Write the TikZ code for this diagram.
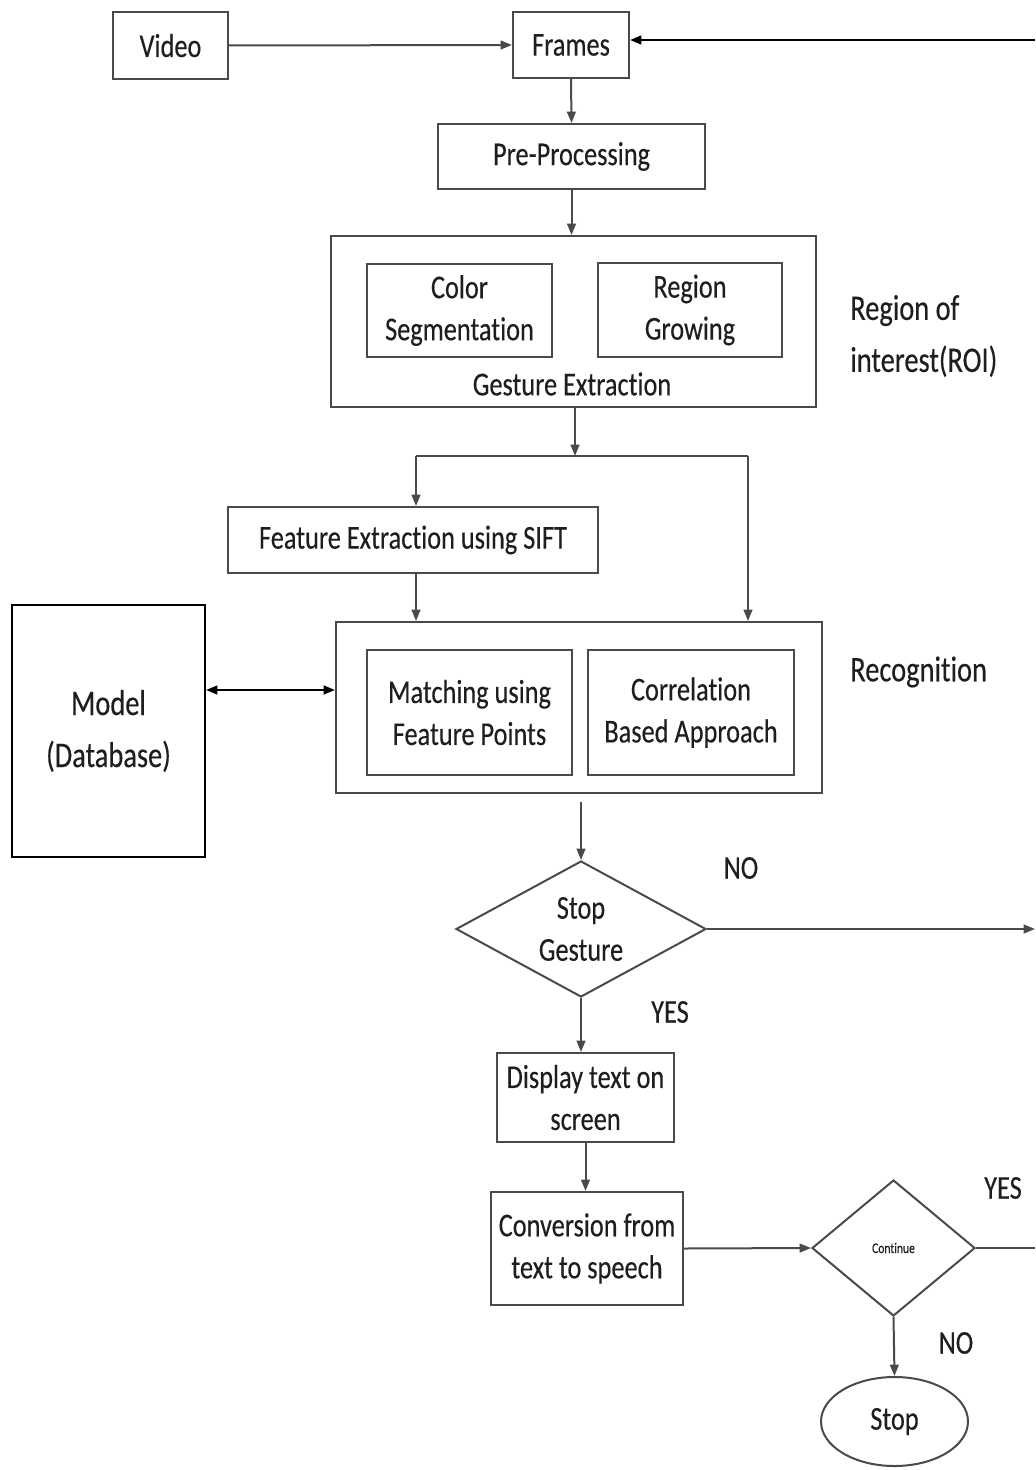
\documentclass[tikz,border=0pt]{standalone}
\usepackage{fontspec}
\setmainfont{Carlito}[FakeStretch=0.79, FakeBold=0.3, Ligatures=CommonOff]
\usetikzlibrary{arrows.meta,shapes.geometric}
\definecolor{ln}{HTML}{4A4A4A}
\definecolor{tx}{HTML}{1E1E1E}
\begin{document}
\begin{tikzpicture}[x=0.75pt,y=-0.75pt,
  every node/.style={font=\fontsize{25}{31.5}\selectfont, text=tx},
  rbox/.style={draw=ln, line width=1.5pt, rectangle, inner sep=0pt, align=center},
  diam/.style={draw=ln, line width=1.5pt, diamond, inner sep=0pt, align=center},
  oval/.style={draw=ln, line width=1.5pt, ellipse, inner sep=0pt, align=center},
  big/.style={font=\fontsize{27}{39}\selectfont},
  lbl/.style={inner sep=0pt},
  con/.style={draw=ln, line width=1.5pt},
  arr/.style={con, -{Triangle[length=8.5pt,width=6.5pt]}},
  darr/.style={con, {Triangle[length=8.5pt,width=6.5pt]}-{Triangle[length=8.5pt,width=6.5pt]}, draw=black, line width=1.6pt}
]
\useasboundingbox (0,0) rectangle (1035,1470);

% boxes
\node[rbox, minimum width=86.25pt, minimum height=50.25pt] (video) at (170.5,45.5) {Video};
\node[rbox, minimum width=87pt, minimum height=49.5pt] (frames) at (571,45) {Frames};
\node[rbox, minimum width=200.25pt, minimum height=48.75pt] (pre) at (571.5,156.5) {Pre-Processing};
\node[rbox, minimum width=363.75pt, minimum height=128.25pt] (gext) at (573.5,321.5) {};
\node[rbox, minimum width=138.75pt, minimum height=69.75pt] (colseg) at (459.5,310.5) {Color\\Segmentation};
\node[rbox, minimum width=138pt, minimum height=70.5pt] (regrow) at (690,310) {Region\\Growing};
\node[lbl] (gextlbl) at (572,384) {Gesture Extraction};
\node[lbl, big, align=left, anchor=west] (roi) at (850,336) {Region of\\interest(ROI)};

\node[rbox, minimum width=277.5pt, minimum height=49.5pt] (sift) at (413,540) {Feature Extraction using SIFT};
\node[rbox, minimum width=364.5pt, minimum height=128.25pt] (recog) at (579,707.5) {};
\node[rbox, minimum width=153.75pt, minimum height=93.75pt] (match) at (469.5,712.5) {Matching using\\Feature Points};
\node[rbox, minimum width=154.5pt, minimum height=93.75pt] (corr) at (691,712.5) {Correlation\\Based Approach};
\node[lbl, big, anchor=west] (recoglbl) at (850,672) {Recognition};
\node[rbox, big, draw=black, minimum width=144.75pt, minimum height=189pt] (model) at (108.5,731) {Model\\(Database)};

\node[diam, minimum width=187.5pt, minimum height=102pt, aspect=1.84] (sg) at (581,929) {Stop\\Gesture};
\node[lbl] (no1) at (741,868) {NO};
\node[lbl] (yes1) at (670,1012) {YES};
\node[rbox, minimum width=132.75pt, minimum height=66.75pt] (disp) at (585.5,1097.5) {Display text on\\screen};
\node[rbox, minimum width=144pt, minimum height=84.75pt] (conv) at (587,1248.5) {Conversion from\\text to speech};
\node[diam, minimum width=122.25pt, minimum height=102pt, aspect=1.2, font=\fontsize{11}{13}\selectfont] (cont) at (893.5,1248) {Continue};
\node[lbl] (yes2) at (1003,1188) {YES};
\node[lbl] (no2) at (956,1343) {NO};
\node[oval, minimum width=110.25pt, minimum height=66.75pt] (stop) at (894.5,1421.5) {Stop};

% free ends
\coordinate (re1) at (1035,40);
\coordinate (re2) at (1035,929);
\coordinate (re3) at (1035,1248);
\coordinate (jn) at (575,456);
\coordinate (sl) at (416,456);
\coordinate (sr) at (748,456);

% connectors
\draw[arr] (video.east) -- (frames.west);
\draw[arr, draw=black, line width=1.8pt] (re1) -- (re1 -| frames.east);
\draw[arr] (frames.south) -- (pre.north);
\draw[arr] (pre.south) -- (pre.south |- gext.north);
\draw[arr] (jn |- gext.south) -- (jn);
\draw[con] (sl) -- (sr);
\draw[arr] (sl) -- (sl |- sift.north);
\draw[arr] (sr) -- (sr |- recog.north);
\draw[arr] (sl |- sift.south) -- (sl |- recog.north);
\draw[darr] (model.east |- 0,690) -- (recog.west |- 0,690);
\draw[arr, shorten <=6pt] (recog.south -| sg.north) -- (sg.north);
\draw[arr] (sg.east) -- (re2);
\draw[arr] (sg.south) -- (sg.south |- disp.north);
\draw[arr] (disp.south) -- (disp.south |- conv.north);
\draw[arr] (conv.east) -- (cont.west);
\draw[con] (cont.east) -- (re3);
\draw[arr] (cont.south) -- (stop.north);
\end{tikzpicture}
\end{document}
